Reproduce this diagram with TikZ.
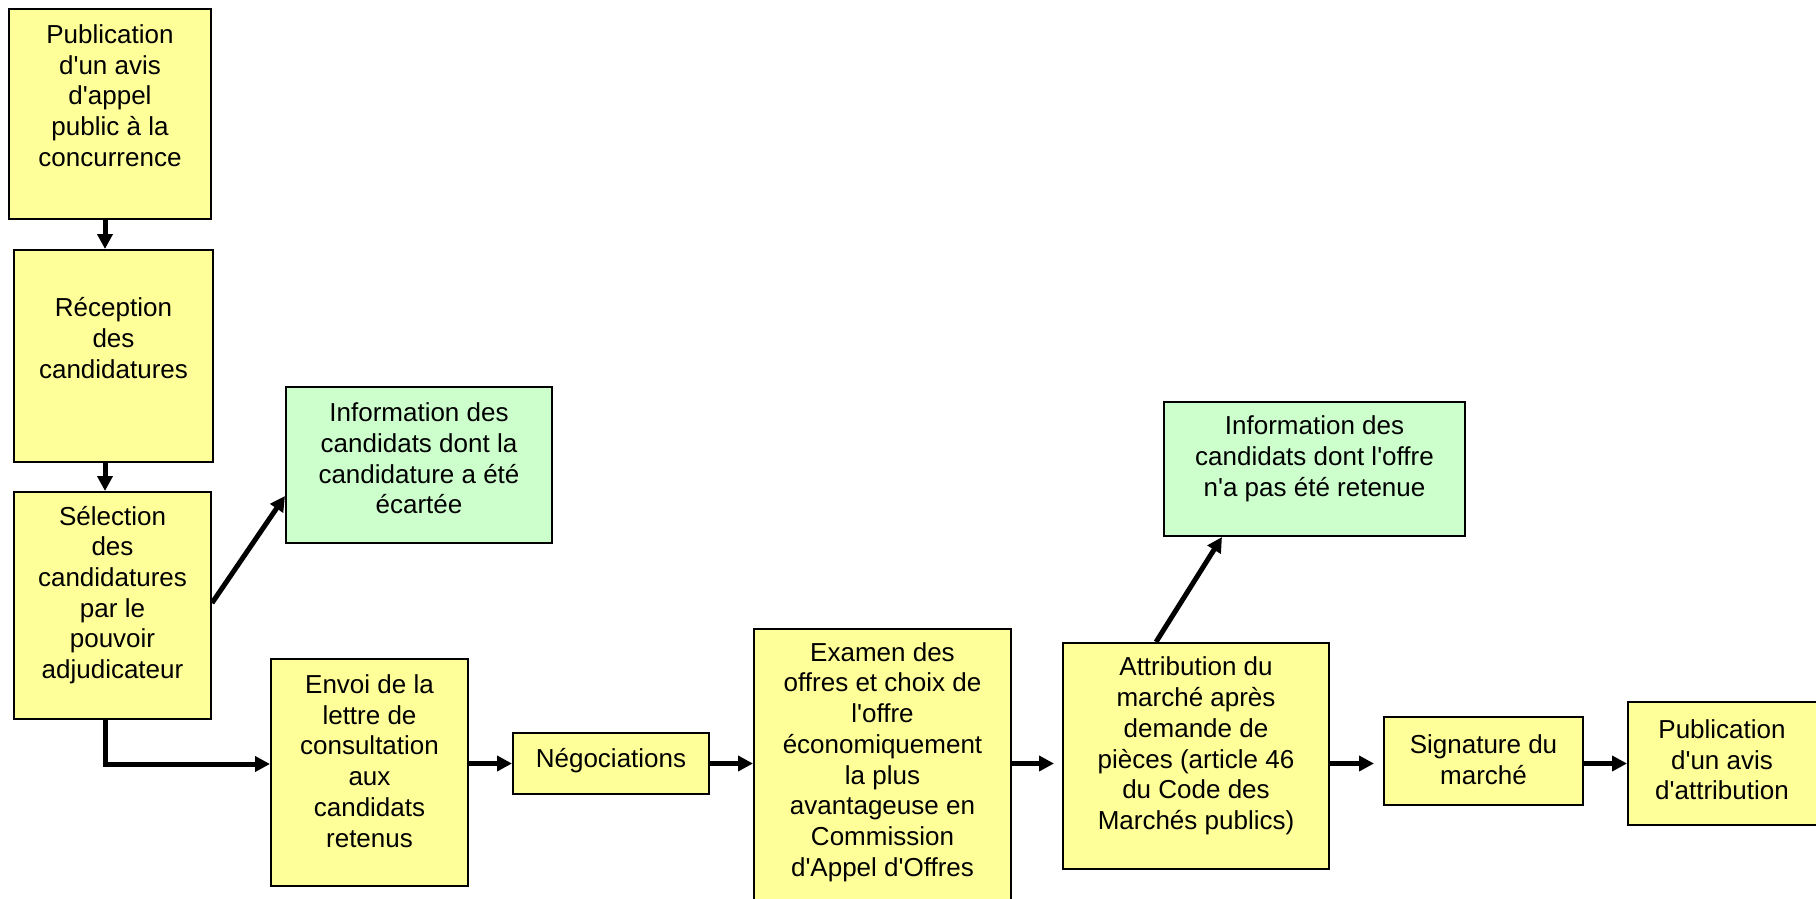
\documentclass[tikz,border=0pt]{standalone}
\usepackage{fontspec}
\setmainfont{Liberation Sans}[Ligatures=TeXOff]
\usetikzlibrary{arrows.meta}
\definecolor{boxyellow}{HTML}{FFFF99}
\definecolor{boxgreen}{HTML}{CCFFCC}
\tikzset{
  ybox/.style={draw=black, line width=2pt, fill=boxyellow, inner sep=0pt},
  gbox/.style={draw=black, line width=2pt, fill=boxgreen, inner sep=0pt},
  txt/.style={align=center, inner sep=0pt, font=\fontsize{26pt}{30.7pt}\selectfont},
  arr/.style={line width=5pt, -{Triangle[length=15pt,width=15pt]}}
}
\begin{document}
\begin{tikzpicture}[x=1pt,y=-1pt]
\fill[white] (0,0) rectangle (1816,899);
\useasboundingbox (0,0) rectangle (1816,899);

\node[ybox, minimum width=202pt, minimum height=210pt] (b1) at (110,114) {};
\node[txt] (t1) at (110,95.5) {Publication\\d'un avis\\d'appel\\public à la\\concurrence};

\node[ybox, minimum width=199pt, minimum height=212pt] (b2) at (113.5,356) {};
\node[txt] (t2) at (113.5,338) {Réception\\des\\candidatures};

\node[ybox, minimum width=197pt, minimum height=227pt] (b3) at (112.5,605.5) {};
\node[txt] (t3) at (112.5,595) {Sélection\\des\\candidatures\\par le\\pouvoir\\adjudicateur};

\node[gbox, minimum width=266pt, minimum height=156pt] (g1) at (419,465) {};
\node[txt] (tg1) at (419,458.6) {Information des\\candidats dont la\\candidature a été\\écartée};

\node[ybox, minimum width=197pt, minimum height=227pt] (b4) at (369.5,772.5) {};
\node[txt] (t4) at (369.5,761) {Envoi de la\\lettre de\\consultation\\aux\\candidats\\retenus};

\node[ybox, minimum width=196pt, minimum height=61pt] (b5) at (611,763.5) {};
\node[txt] (t5) at (611,761) {Négociations};

\node[ybox, minimum width=257pt, minimum height=278pt] (b6) at (882.5,768) {};
\node[txt] (t6) at (882.5,762) {Examen des\\offres et choix de\\l'offre\\économiquement\\la plus\\avantageuse en\\Commission\\d'Appel d'Offres};

\node[ybox, minimum width=266pt, minimum height=226pt] (b7) at (1196,756) {};
\node[txt] (t7) at (1196,746) {Attribution du\\marché après\\demande de\\pièces (article 46\\du Code des\\Marchés publics)};

\node[gbox, minimum width=301pt, minimum height=134pt] (g2) at (1314.5,469) {};
\node[txt] (tg2) at (1314.5,458.6) {Information des\\candidats dont l'offre\\n'a pas été retenue};

\node[ybox, minimum width=199pt, minimum height=88pt] (b8) at (1483.5,761) {};
\node[txt] (t8) at (1483.5,760) {Signature du\\marché};

\node[ybox, minimum width=190pt, minimum height=123pt] (b9) at (1723,763.5) {};
\node[txt] (t9) at (1722,760) {Publication\\d'un avis\\d'attribution};

% connectors
\draw[arr] ([xshift=-5pt]b1.south) -- ([xshift=-8.5pt]b2.north);
\draw[arr] ([xshift=-8.5pt]b2.south) -- ([xshift=-7.5pt]b3.north);
\draw[arr] ([yshift=2.5pt]b3.east) -- ([yshift=-31pt]g1.west);
\draw[arr, line cap=rect] ([xshift=-7.5pt]b3.south) |- ([yshift=8.5pt]b4.west);
\draw[arr] (b4.east |- b5.west) -- (b5.west);
\draw[arr] (b5.east) -- (b6.west |- b5.east);
\draw[arr] (b6.east |- b5.east) -- ([xshift=-8pt]b7.west |- b5.east);
\draw[arr] (b7.east |- b5.east) -- ([xshift=-9pt]b8.west |- b5.east);
\draw[arr] (b8.east |- b5.east) -- (b9.west |- b5.east);
\draw[arr] ([xshift=-40pt]b7.north) -- ([xshift=-92.5pt]g2.south);
\end{tikzpicture}
\end{document}
